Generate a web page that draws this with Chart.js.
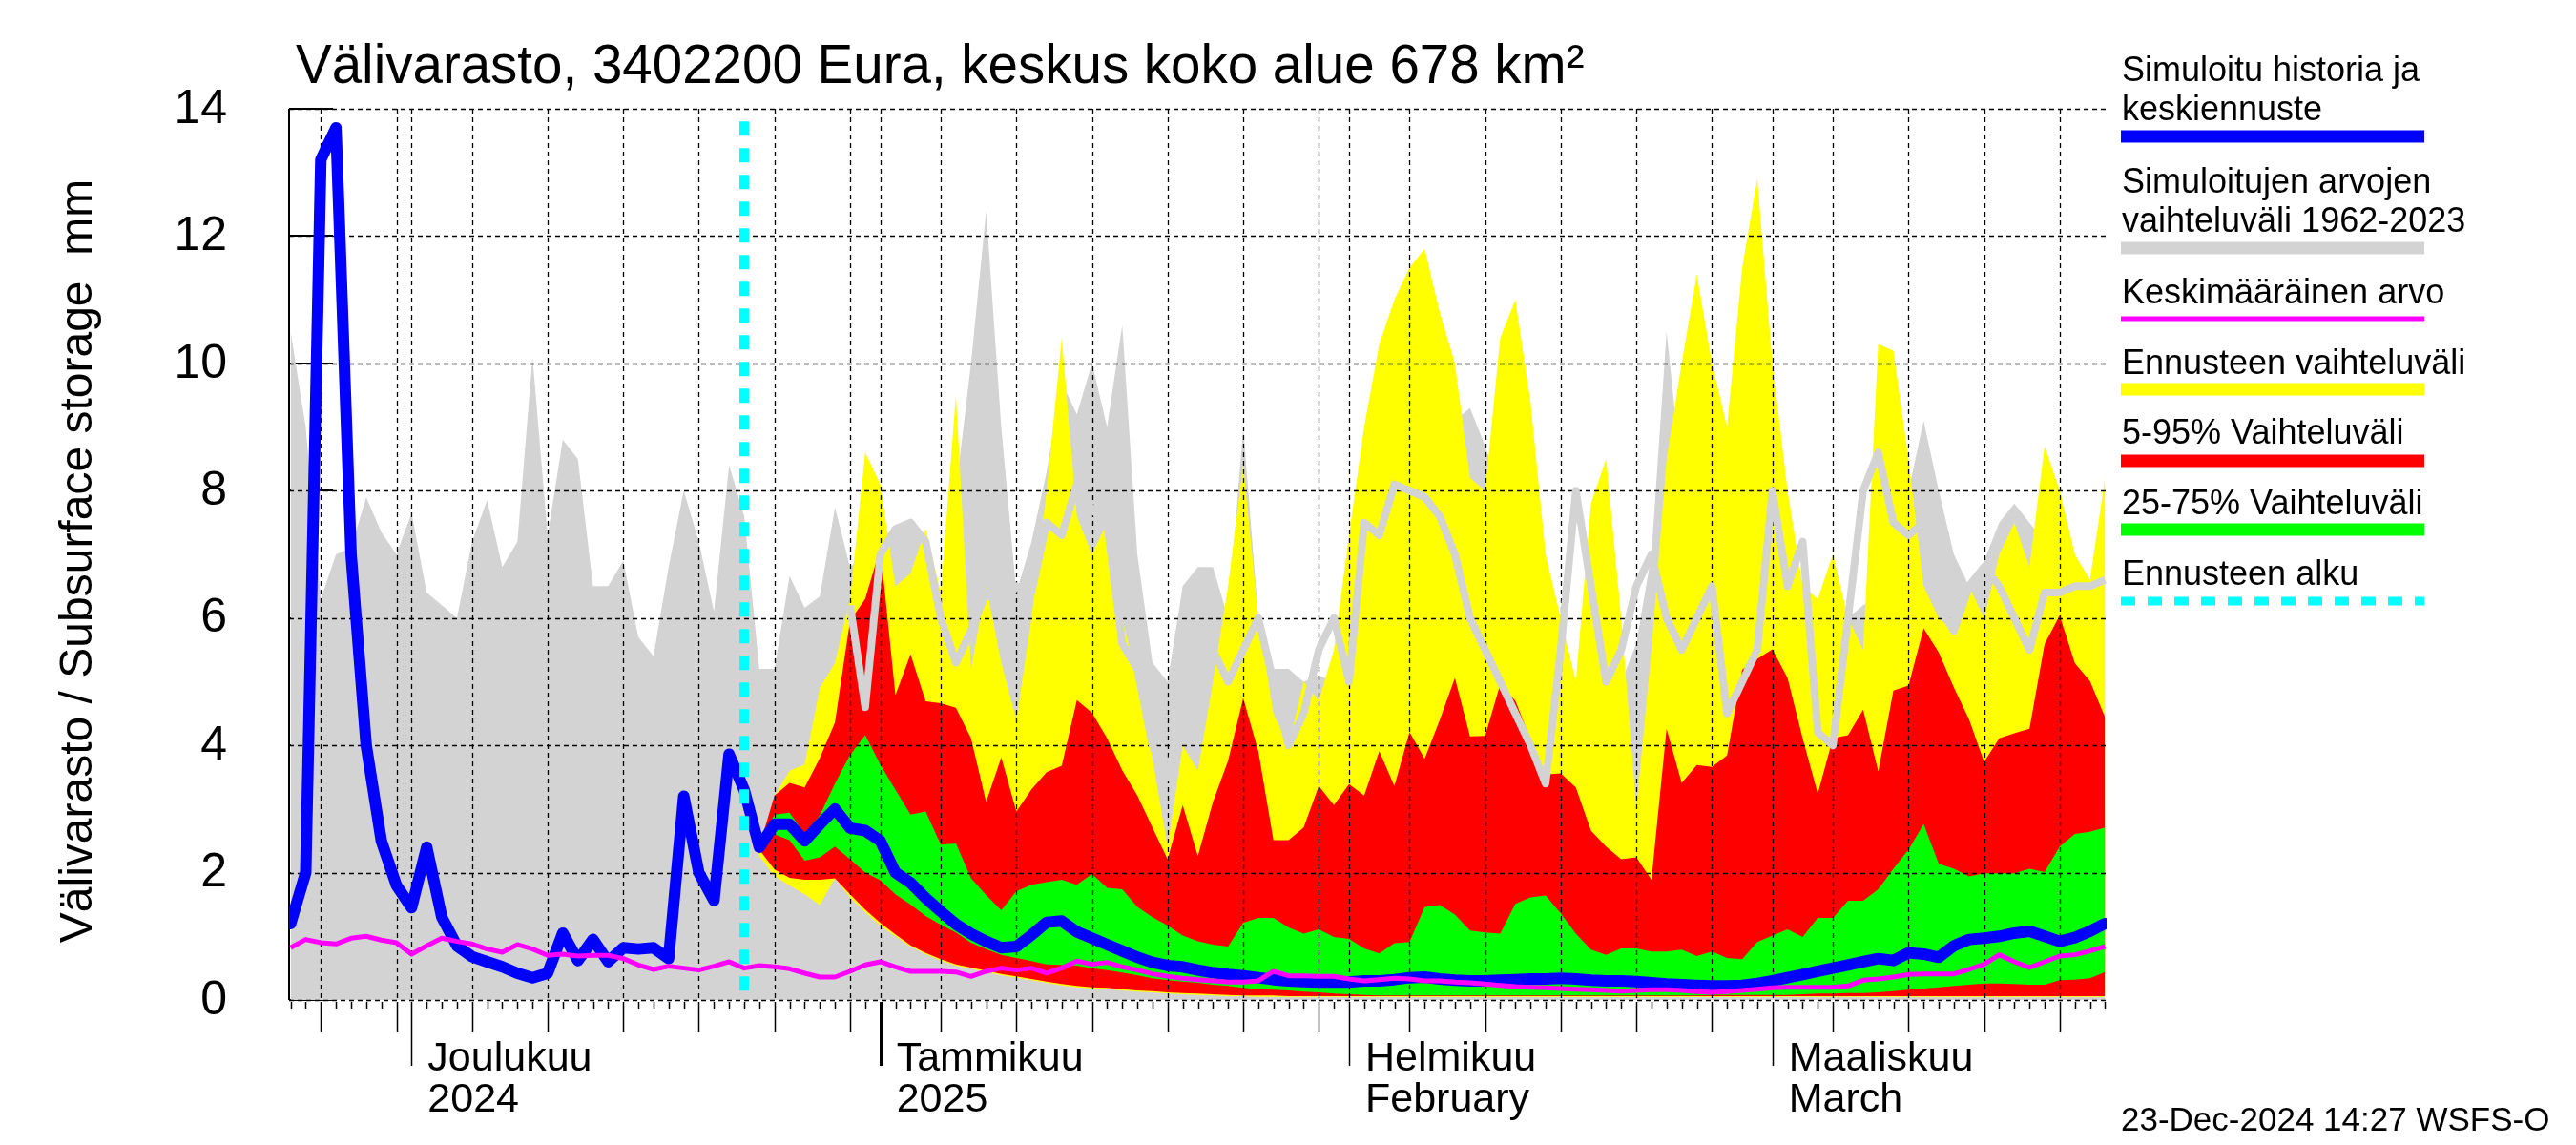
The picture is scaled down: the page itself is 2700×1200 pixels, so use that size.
<!DOCTYPE html>
<html><head><meta charset="utf-8">
<script src="https://cdn.jsdelivr.net/npm/chart.js@4.4.1/dist/chart.umd.min.js"></script>
<style>html,body{margin:0;padding:0;background:#fff;}#wrap{width:2700px;height:1200px;position:relative;}</style>
</head><body><div id="wrap"><canvas id="c" width="2700" height="1200"></canvas></div>
<script>
// ---- categories: days, counted relative to 1 Dec 2024 ----
const firstDay = -8;            // 23 Nov 2024
const lastDay = 112;            // 23 Mar 2025
const forecastFirstDay = 23;    // first day of forecast bands
const grayLineFirstDay = 29;
const forecastStartDay = 22;    // "Ennusteen alku"
const forecastStartTop = 13.8;
const monthStarts = [0, 31, 62, 90];
const monthLabels = [['Joulukuu','2024'],['Tammikuu','2025'],['Helmikuu','February'],['Maaliskuu','March']];
const yTicks = [0,2,4,6,8,10,12,14];

// ---- series (mm) ----
const blueSeries = [1.2,2.0,13.2,13.7,7.0,4.0,2.5,1.8,1.45,2.4,
1.3,0.85,0.68,0.6,0.52,0.42,0.35,0.42,1.05,0.62,
0.95,0.6,0.82,0.8,0.82,0.65,3.2,2.0,1.56,3.86,
3.3,2.4,2.76,2.76,2.5,2.76,3.0,2.7,2.66,2.5,
2.0,1.84,1.6,1.39,1.19,1.04,0.92,0.82,0.84,1.02,
1.22,1.24,1.07,0.97,0.87,0.77,0.67,0.59,0.54,0.52,
0.47,0.43,0.4,0.38,0.35,0.32,0.3,0.29,0.28,0.28,
0.28,0.3,0.3,0.32,0.35,0.36,0.33,0.31,0.3,0.3,
0.31,0.32,0.33,0.33,0.34,0.33,0.31,0.3,0.3,0.29,
0.27,0.25,0.24,0.23,0.22,0.22,0.23,0.26,0.3,0.35,
0.4,0.45,0.5,0.55,0.6,0.65,0.62,0.74,0.72,0.67,
0.85,0.95,0.97,1.0,1.05,1.08,1.0,0.92,0.98,1.08,
1.2];
const meanSeries = [0.82,0.95,0.9,0.88,0.97,1.0,0.94,0.9,0.72,0.85,
0.97,0.92,0.88,0.8,0.75,0.87,0.8,0.7,0.72,0.69,
0.7,0.7,0.65,0.55,0.48,0.53,0.5,0.47,0.53,0.6,
0.5,0.54,0.52,0.49,0.42,0.36,0.36,0.45,0.55,0.6,
0.52,0.45,0.45,0.45,0.44,0.37,0.45,0.5,0.47,0.5,
0.42,0.5,0.61,0.56,0.59,0.52,0.47,0.41,0.37,0.34,
0.32,0.3,0.28,0.28,0.3,0.45,0.38,0.38,0.37,0.37,
0.33,0.3,0.32,0.34,0.33,0.3,0.3,0.28,0.27,0.25,
0.23,0.21,0.2,0.19,0.18,0.17,0.16,0.15,0.14,0.15,
0.16,0.16,0.15,0.13,0.12,0.13,0.15,0.17,0.19,0.2,
0.2,0.2,0.2,0.22,0.31,0.33,0.36,0.4,0.41,0.41,
0.41,0.48,0.56,0.71,0.6,0.51,0.6,0.69,0.71,0.77,
0.84];
const histMax = [10.5,9.0,6.3,7.0,7.1,7.9,7.35,7.0,7.65,6.4,
6.2,6.0,7.2,7.85,6.8,7.2,10.1,7.3,8.8,8.5,
6.5,6.5,6.9,5.7,5.4,6.8,8.0,7.2,6.1,8.4,
7.6,5.2,5.2,6.66,6.16,6.34,7.74,6.8,7.0,7.2,
7.46,7.47,7.3,6.0,8.0,10.0,12.4,9.0,6.4,7.2,
8.3,9.7,9.2,10.0,9.0,10.6,7.0,5.3,5.0,6.5,
6.8,6.8,6.0,9.0,6.0,5.2,5.2,5.0,5.1,5.0,
6.0,6.6,7.0,7.5,8.0,8.5,8.8,9.1,9.3,8.7,
8.0,8.1,7.0,6.6,6.0,5.0,4.6,4.5,5.0,5.6,
7.0,10.5,8.2,6.8,6.3,7.0,6.5,6.6,6.6,6.5,
6.4,6.2,6.1,6.0,6.2,6.3,7.0,8.0,9.1,8.0,
7.0,6.5,6.9,7.5,7.8,7.5,7.2,6.7,6.5,6.5,
6.6];
const fcMax = [2.4,3.2,3.6,3.7,4.9,5.3,6.3,8.6,8.1,6.5,
6.7,7.4,6.4,9.5,5.2,6.5,5.3,4.4,6.0,8.0,
10.4,7.6,7.0,7.5,6.0,5.0,3.8,2.4,4.0,3.6,
5.0,6.5,8.4,6.0,4.5,4.0,5.0,4.7,5.5,7.3,
9.0,10.3,11.0,11.5,11.8,10.8,10.0,8.2,8.0,10.4,
11.0,9.4,7.0,6.0,5.0,7.8,8.5,6.0,3.0,5.5,
8.5,10.0,11.4,10.0,9.0,11.5,12.9,10.0,8.0,6.5,
6.3,7.0,6.0,5.5,10.3,10.2,8.5,6.5,6.0,5.8,
6.5,6.0,7.0,7.5,6.8,8.7,8.0,7.0,6.6,8.2];
const fcMin = [2.26,1.95,1.8,1.66,1.49,1.91,1.61,1.38,1.17,1.0,
0.84,0.72,0.62,0.54,0.49,0.44,0.39,0.35,0.31,0.27,
0.23,0.2,0.18,0.17,0.15,0.13,0.12,0.1,0.09,0.08,
0.07,0.06,0.06,0.05,0.05,0.05,0.05,0.05,0.05,0.05,
0.05,0.05,0.05,0.05,0.05,0.05,0.05,0.05,0.05,0.05,
0.05,0.05,0.05,0.05,0.05,0.05,0.05,0.05,0.05,0.05,
0.05,0.05,0.05,0.05,0.05,0.05,0.05,0.05,0.05,0.05,
0.05,0.05,0.05,0.05,0.05,0.05,0.05,0.05,0.05,0.05,
0.05,0.05,0.05,0.05,0.05,0.05,0.05,0.05,0.05,0.05];
const p95 = [2.41,3.21,3.41,3.34,3.8,4.36,5.96,6.3,7.1,4.79,
5.43,4.69,4.66,4.59,4.11,3.11,3.81,2.96,3.31,3.58,
3.68,4.71,4.51,4.11,3.61,3.21,2.71,2.21,3.06,2.26,
3.11,3.76,4.74,3.91,2.51,2.51,2.71,3.36,3.06,3.39,
3.21,3.91,3.36,4.21,3.79,4.4,5.06,4.14,4.15,4.96,
4.7,4.1,3.54,3.56,3.34,2.66,2.41,2.21,2.24,1.89,
4.26,3.41,3.69,3.66,3.84,5.19,5.36,5.51,5.06,4.11,
3.24,4.11,4.16,4.56,3.59,4.86,4.94,5.84,5.46,4.91,
4.41,3.74,4.11,4.19,4.26,5.59,6.04,5.29,5.01,4.44];
const p05 = [2.36,2.05,1.92,1.89,1.89,1.91,1.66,1.42,1.21,1.03,
0.86,0.74,0.64,0.56,0.51,0.46,0.41,0.37,0.33,0.29,
0.25,0.22,0.2,0.19,0.17,0.15,0.14,0.12,0.11,0.1,
0.09,0.08,0.07,0.07,0.07,0.06,0.06,0.06,0.06,0.06,
0.06,0.06,0.06,0.06,0.06,0.06,0.06,0.06,0.06,0.06,
0.06,0.06,0.06,0.06,0.06,0.06,0.06,0.06,0.06,0.06,
0.06,0.06,0.06,0.06,0.06,0.06,0.06,0.06,0.06,0.06,
0.06,0.06,0.06,0.06,0.06,0.06,0.06,0.06,0.06,0.06,
0.06,0.06,0.06,0.06,0.06,0.06,0.06,0.06,0.06,0.06];
const p75 = [2.45,2.91,2.94,2.61,2.9,3.4,3.85,4.16,3.7,3.3,
2.91,2.96,2.44,2.46,1.91,1.65,1.41,1.71,1.81,1.85,
1.89,1.81,1.98,1.76,1.74,1.46,1.3,1.17,1.01,0.92,
0.87,0.84,1.21,1.29,1.29,1.14,1.04,1.11,0.99,0.96,
0.81,0.73,0.89,0.91,1.46,1.49,1.34,1.09,1.06,1.04,
1.51,1.61,1.64,1.36,1.04,0.79,0.71,0.81,0.81,0.76,
0.76,0.79,0.69,0.76,0.66,0.64,0.91,1.01,1.11,0.99,
1.29,1.29,1.56,1.56,1.74,2.06,2.36,2.76,2.14,2.06,
1.94,1.99,1.99,1.99,2.06,2.01,2.41,2.61,2.64,2.71];
const p25 = [2.4,2.6,2.51,2.19,2.24,2.41,2.21,2.0,1.88,1.66,
1.5,1.32,1.18,1.06,0.9,0.8,0.71,0.66,0.61,0.56,
0.55,0.54,0.5,0.47,0.43,0.39,0.34,0.31,0.29,0.27,
0.24,0.22,0.19,0.17,0.16,0.15,0.13,0.12,0.1,0.09,
0.08,0.07,0.07,0.07,0.07,0.07,0.07,0.07,0.07,0.07,
0.07,0.07,0.07,0.07,0.07,0.07,0.07,0.07,0.07,0.07,
0.07,0.07,0.07,0.08,0.08,0.08,0.08,0.08,0.08,0.09,
0.1,0.1,0.11,0.11,0.12,0.14,0.16,0.18,0.2,0.22,
0.24,0.26,0.26,0.25,0.24,0.24,0.31,0.32,0.34,0.44];
const grayLineSeries = [6.2,4.6,7.0,7.4,7.5,7.2,6.0,5.3,5.8,6.4,
6.2,6.5,6.4,7.5,7.3,8.1,7.7,7.5,5.6,5.2,
4.0,3.5,4.5,5.0,5.5,5.0,5.5,6.0,5.0,4.0,
4.5,5.5,6.0,5.0,7.5,7.3,8.1,8.0,7.9,7.6,
7.0,6.0,5.5,5.0,4.5,4.0,3.4,5.5,8.0,6.5,
5.0,5.5,6.5,7.0,6.0,5.5,6.0,6.5,4.5,5.0,
5.5,8.0,6.5,7.2,4.2,4.0,6.0,8.0,8.6,7.5,
7.3,7.5,6.2,5.8,6.5,6.8,6.5,6.0,5.5,6.4,
6.4,6.5,6.5,6.6];

// ---- helpers ----
const pts = (arr, first) => arr.map((v, i) => ({x: first + i, y: v}));
const GRAY = '#d3d3d3';
const FONT = '"Liberation Sans", Arial, Helvetica, sans-serif';

const legendItems = [
  {lines:['Simuloitu historia ja','keskiennuste'], base:[85,126], barY:143, barW:13, color:'#0000ff'},
  {lines:['Simuloitujen arvojen','vaihteluväli 1962-2023'], base:[202,243], barY:260, barW:13, color:GRAY},
  {lines:['Keskimääräinen arvo'], base:[318], barY:334, barW:5, color:'#ff00ff'},
  {lines:['Ennusteen vaihteluväli'], base:[392], barY:408, barW:13, color:'#ffff00'},
  {lines:['5-95% Vaihteluväli'], base:[465], barY:483, barW:13, color:'#ff0000'},
  {lines:['25-75% Vaihteluväli'], base:[539], barY:555, barW:13, color:'#00ff00'},
  {lines:['Ennusteen alku'], base:[613], barY:630, barW:9, color:'#00ffff', dash:[15,13]}
];

function dayDate(d){ const t = new Date(Date.UTC(2024,11,1)); t.setUTCDate(t.getUTCDate()+d); return t; }

const GRID_AFTER = 7; // draw grid just before the dataset with this index

const deco = {
  id:'deco',
  beforeDatasetsDraw(chart){
    const {ctx, chartArea:a, scales:{y}} = chart;
    ctx.save();
    ctx.strokeStyle='#000'; ctx.lineWidth=2;
    ctx.beginPath(); ctx.moveTo(a.left, y.getPixelForValue(14)); ctx.lineTo(a.left, y.getPixelForValue(0)); ctx.stroke();
    yTicks.forEach(v=>{ const py=Math.round(y.getPixelForValue(v)); ctx.beginPath(); ctx.moveTo(a.left,py); ctx.lineTo(a.left+46,py); ctx.stroke(); });
    ctx.restore();
  },
  beforeDatasetDraw(chart,args){
    if(args.index!==GRID_AFTER) return;
    const {ctx, chartArea:a, scales:{x,y}} = chart;
    ctx.save();
    ctx.strokeStyle='#000'; ctx.lineWidth=1.3; ctx.setLineDash([5,4]);
    yTicks.forEach(v=>{ const py=Math.round(y.getPixelForValue(v))+0.5; ctx.beginPath(); ctx.moveTo(a.left,py); ctx.lineTo(a.right,py); ctx.stroke(); });
    for(let d=firstDay; d<=lastDay; d++){
      const dm = dayDate(d).getUTCDate();
      if(dm===1 || dm%5===0){
        const px=Math.round(x.getPixelForValue(d))+0.5;
        ctx.beginPath(); ctx.moveTo(px,y.getPixelForValue(14)); ctx.lineTo(px,y.getPixelForValue(0)); ctx.stroke();
      }
    }
    ctx.restore();
  },
  afterDraw(chart){
    const {ctx, chartArea:a, scales:{x,y}} = chart;
    ctx.save();
    ctx.strokeStyle='#000';
    const y0 = y.getPixelForValue(0)+2;
    for(let d=firstDay; d<=lastDay; d++){
      const dm = dayDate(d).getUTCDate();
      const px=Math.round(x.getPixelForValue(d))+0.5;
      let len=7; ctx.lineWidth=1.5;
      if(dm===1){ len=67; if(dayDate(d).getUTCMonth()===0) ctx.lineWidth=3; }
      else if(dm%5===0) len=32;
      ctx.beginPath(); ctx.moveTo(px,y0); ctx.lineTo(px,y0+len); ctx.stroke();
    }
    ctx.fillStyle='#000'; ctx.font='43px '+FONT; ctx.textAlign='left'; ctx.textBaseline='alphabetic';
    monthStarts.forEach((d,i)=>{
      const px=x.getPixelForValue(d)+17;
      ctx.fillText(monthLabels[i][0], px, 1122);
      ctx.fillText(monthLabels[i][1], px, 1165);
    });
    ctx.font='50px '+FONT; ctx.textAlign='right'; ctx.textBaseline='middle';
    yTicks.forEach(v=>ctx.fillText(String(v), 238, y.getPixelForValue(v)+1));
    ctx.save(); ctx.translate(83, 588); ctx.rotate(-Math.PI/2);
    ctx.font='48px '+FONT; ctx.textAlign='center'; ctx.textBaseline='middle';
    ctx.fillText('Välivarasto / Subsurface storage  mm', 0, 0);
    ctx.restore();
    ctx.font='56.5px '+FONT; ctx.textAlign='left'; ctx.textBaseline='alphabetic';
    ctx.fillText('Välivarasto, 3402200 Eura, keskus koko alue 678 km²', 310, 87);
    ctx.font='36px '+FONT;
    legendItems.forEach(it=>{
      ctx.fillStyle='#000';
      it.lines.forEach((t,j)=>ctx.fillText(t, 2224, it.base[j]));
      ctx.strokeStyle=it.color; ctx.lineWidth=it.barW; ctx.setLineDash(it.dash||[]); ctx.lineCap='butt';
      ctx.beginPath(); ctx.moveTo(2223,it.barY); ctx.lineTo(2541,it.barY); ctx.stroke();
    });
    ctx.setLineDash([]);
    ctx.fillStyle='#000'; ctx.font='35px '+FONT;
    ctx.fillText('23-Dec-2024 14:27 WSFS-O', 2223, 1185);
    ctx.restore();
  }
};

const hidden = {borderWidth:0, pointRadius:0, tension:0};
const datasets = [
  {label:'hist', data:pts(histMax, firstDay), backgroundColor:GRAY, fill:'origin', order:20, ...hidden},
  {label:'fcmax', data:pts(fcMax, forecastFirstDay), backgroundColor:'#ffff00', fill:{target:2}, order:19, ...hidden},
  {label:'fcmin', data:pts(fcMin, forecastFirstDay), order:18, ...hidden},
  {label:'p95', data:pts(p95, forecastFirstDay), backgroundColor:'#ff0000', fill:{target:4}, order:17, ...hidden},
  {label:'p05', data:pts(p05, forecastFirstDay), order:16, ...hidden},
  {label:'p75', data:pts(p75, forecastFirstDay), backgroundColor:'#00ff00', fill:{target:6}, order:15, ...hidden},
  {label:'p25', data:pts(p25, forecastFirstDay), order:14, ...hidden},
  {label:'grayline', data:pts(grayLineSeries, grayLineFirstDay), borderColor:GRAY, borderWidth:8, pointRadius:0, tension:0, fill:false, order:13, borderJoinStyle:'round'},
  {label:'blue', data:pts(blueSeries, firstDay), borderColor:'#0000ff', borderWidth:12, pointRadius:0, tension:0, fill:false, order:12, borderJoinStyle:'round', borderCapStyle:'round'},
  {label:'mean', data:pts(meanSeries, firstDay), borderColor:'#ff00ff', borderWidth:5, pointRadius:0, tension:0, fill:false, order:11, borderJoinStyle:'round'},
  {label:'start', data:[{x:forecastStartDay,y:forecastStartTop},{x:forecastStartDay,y:0.05}], borderColor:'#00ffff', borderWidth:10, borderDash:[15,13], pointRadius:0, fill:false, order:10}
];

new Chart(document.getElementById('c'), {
  type:'line',
  data:{datasets},
  options:{
    responsive:false, animation:false, devicePixelRatio:1,
    layout:{padding:{left:303, right:492, top:114, bottom:152}},
    plugins:{legend:{display:false}, tooltip:{enabled:false}, title:{display:false}},
    scales:{
      x:{type:'linear', min:firstDay-0.1, max:lastDay+0.1, display:false},
      y:{type:'linear', min:0, max:14, display:false}
    }
  },
  plugins:[deco]
});
</script></body></html>
